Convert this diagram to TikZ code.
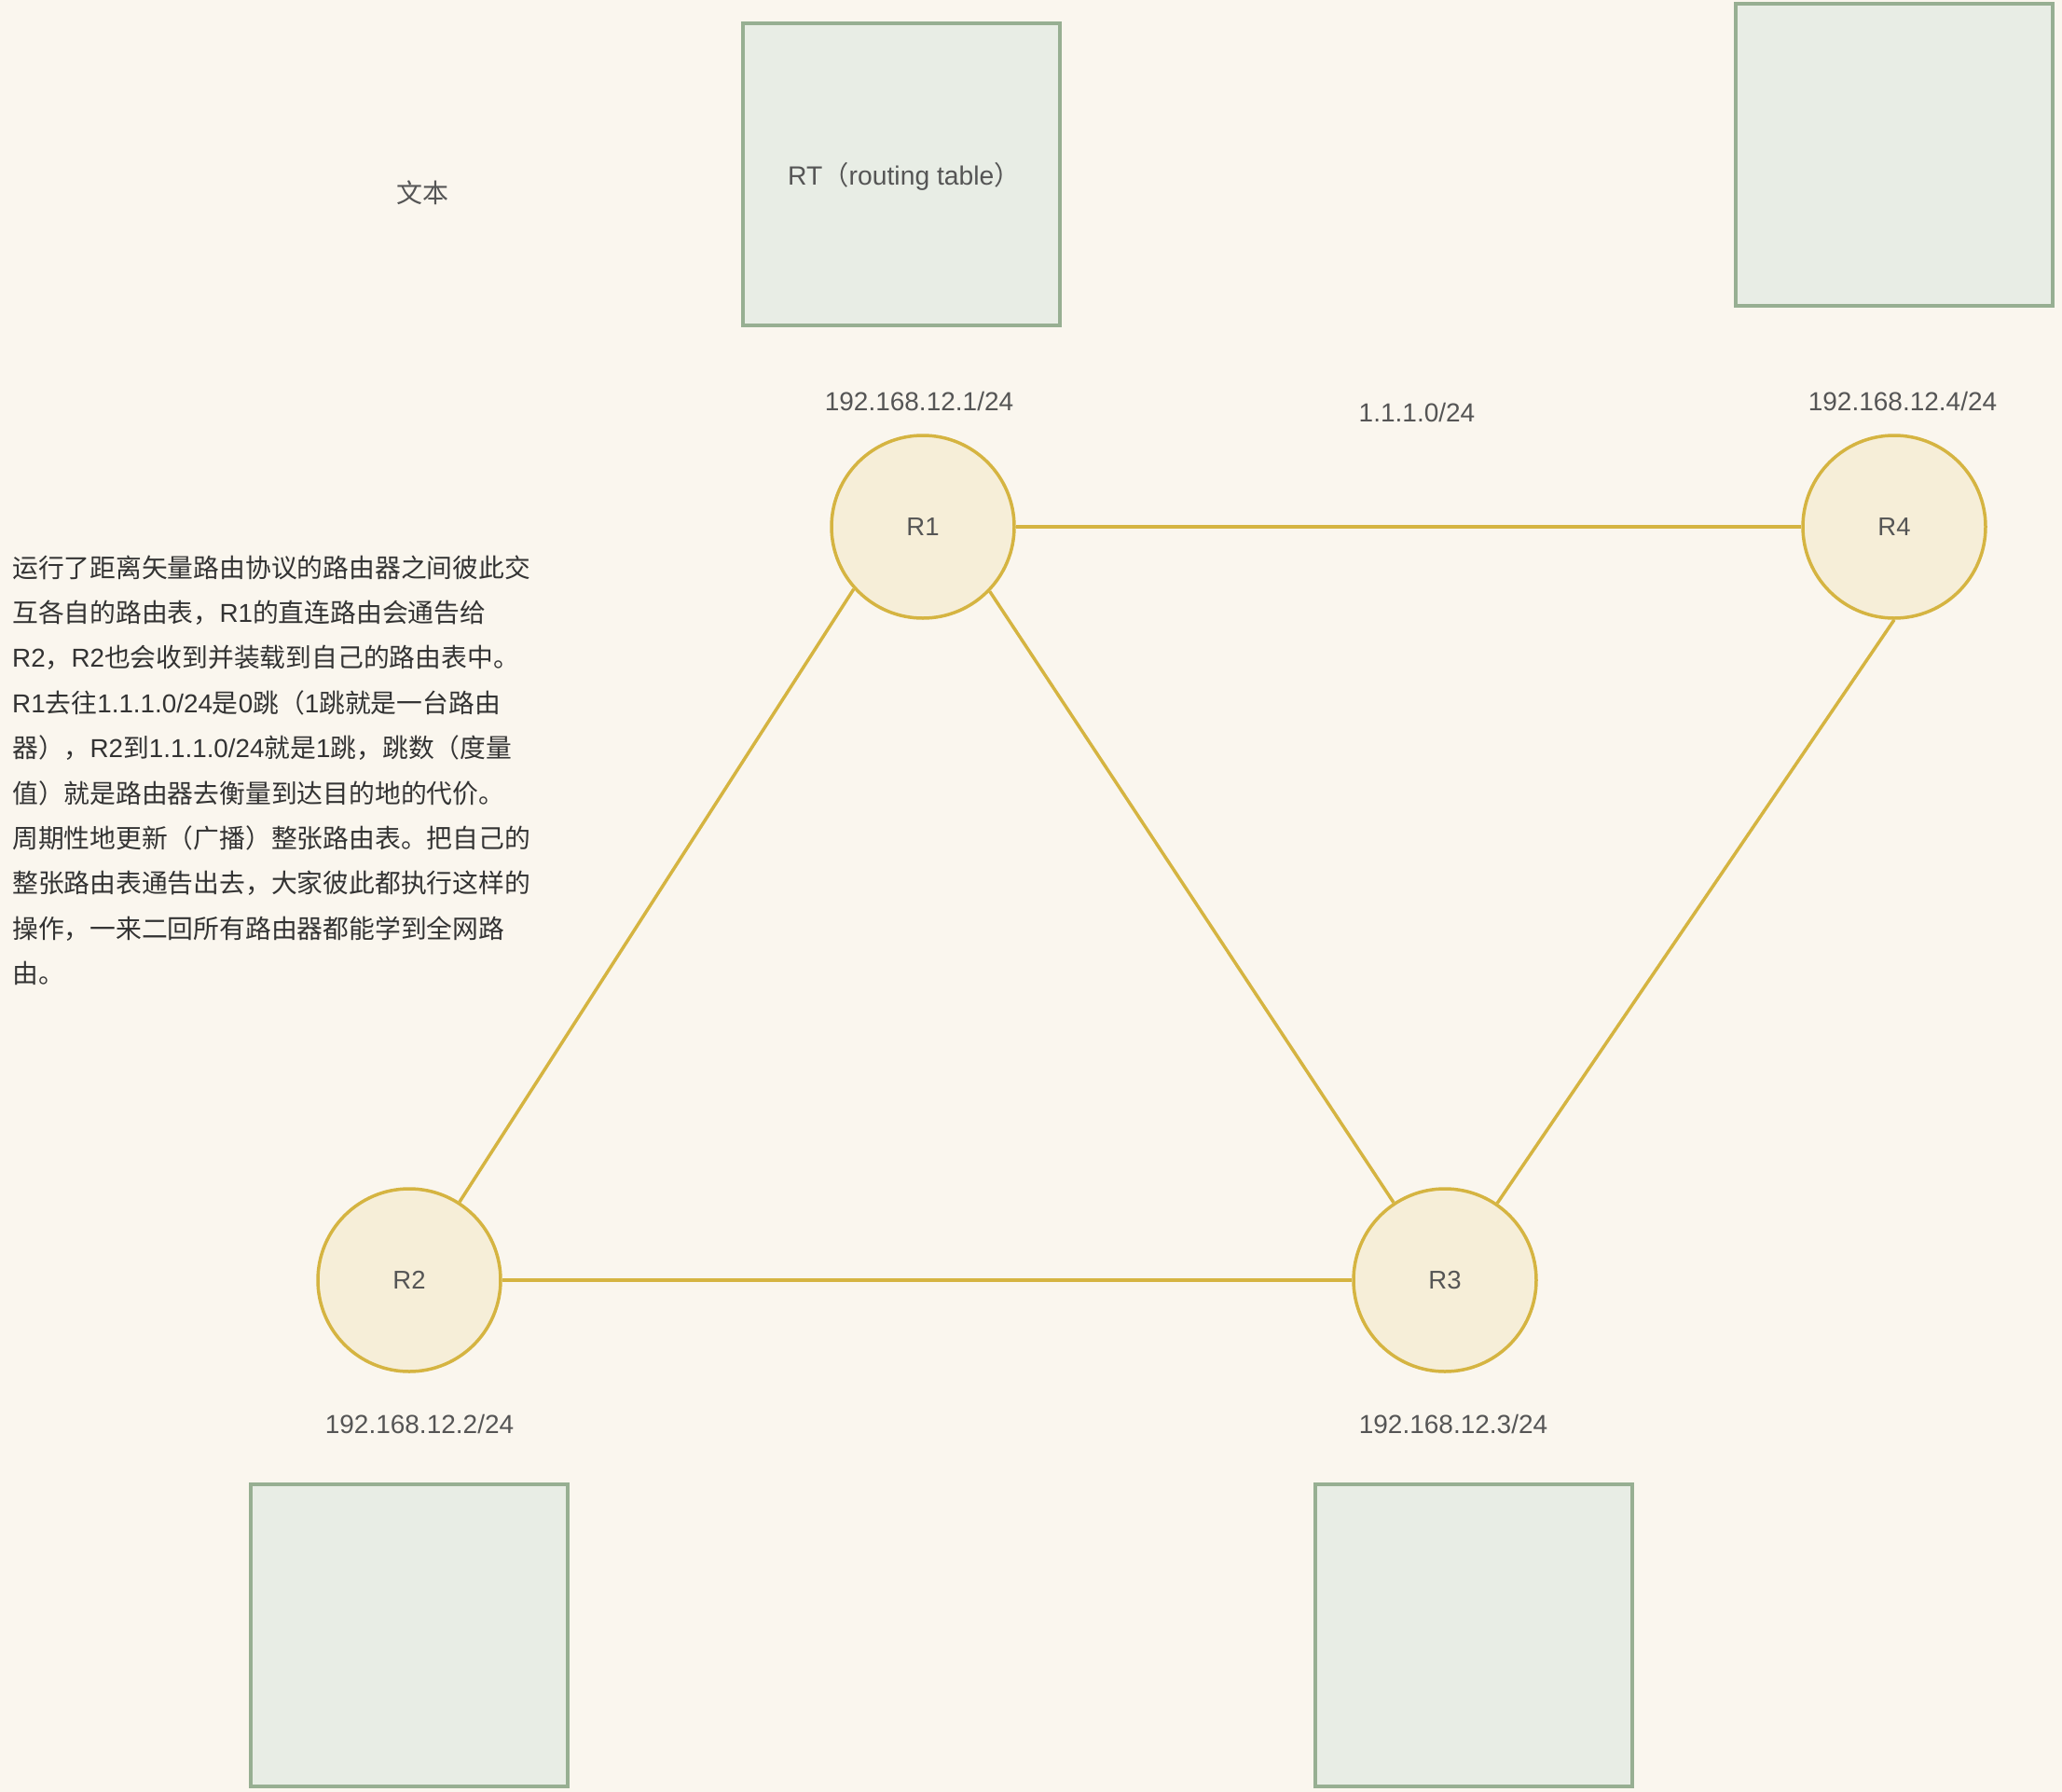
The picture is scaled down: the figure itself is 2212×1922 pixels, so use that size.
\documentclass[tikz,border=0pt]{standalone}
\usepackage{fontspec}
\setmainfont{Liberation Sans}
\newfontfamily\cjk{Noto Sans CJK SC}
\definecolor{bgc}{HTML}{FAF6EE}
\definecolor{rfill}{HTML}{F6EED8}
\definecolor{rstroke}{HTML}{D5B441}
\definecolor{gfill}{HTML}{E8EDE5}
\definecolor{gstroke}{HTML}{97AF92}
\definecolor{lblc}{HTML}{555555}
\definecolor{parac}{HTML}{333333}
\begin{document}
\begin{tikzpicture}[x=1pt,y=-1pt,
  router/.style={circle, draw=rstroke, fill=rfill, line width=3.5pt, minimum size=196pt, inner sep=0pt, text=lblc, font=\fontsize{27.5}{32}\selectfont},
  tblbox/.style={rectangle, draw=gstroke, fill=gfill, line width=3.5pt, minimum width=340pt, minimum height=324pt, inner sep=0pt, text=lblc, font=\fontsize{28.3}{33}\selectfont},
  lbl/.style={inner sep=0pt, text=lblc, font=\fontsize{28}{34}\selectfont},
  para/.style={anchor=base west, inner sep=0pt, text=parac, font=\fontsize{27.8}{33}\selectfont},
  link/.style={draw=rstroke, line width=3.5pt}]
\useasboundingbox[fill=bgc] (0,0) rectangle (2212,1922);

% routing table boxes
\node[tblbox] (RT) at (967,187) {};
\node[inner sep=0pt, text=lblc, font=\fontsize{28.3}{33}\selectfont] (RTt) at (970,189) {RT{\cjk （}routing table{\cjk ）}};
\node[tblbox] (T4) at (2032,166) {};
\node[tblbox] (T2) at (439,1754) {};
\node[tblbox] (T3) at (1581,1754) {};

% routers
\node[router] (R1) at (990,565) {R1};
\node[router] (R4) at (2032,565) {R4};
\node[router] (R2) at (439,1373) {R2};
\node[router] (R3) at (1550,1373) {R3};

% links
\draw[link] (R1) -- (R4);
\draw[link] (R1.222) -- (R2);
\draw[link] (R1.316) -- (R3);
\draw[link] (R4.south) -- (R3);
\draw[link] (R2) -- (R3);

% labels
\node[lbl] (L1) at (986,430) {192.168.12.1/24};
\node[lbl] (Lnet) at (1520,442) {1.1.1.0/24};
\node[lbl] (L4) at (2041,430) {192.168.12.4/24};
\node[lbl] (L2) at (450,1527) {192.168.12.2/24};
\node[lbl] (L3) at (1559,1527) {192.168.12.3/24};
\node[lbl, font=\cjk\fontsize{28}{34}\selectfont] (wb) at (453,207) {文本};

% paragraph
\node[para] (p1) at (13,619) {{\cjk 运行了距离矢量路由协议的路由器之间彼此交}};
\node[para] (p2) at (13,667.4) {{\cjk 互各自的路由表，}R1{\cjk 的直连路由会通告给}};
\node[para] (p3) at (13,715.8) {R2{\cjk ，}R2{\cjk 也会收到并装载到自己的路由表中。}};
\node[para] (p4) at (13,764.2) {R1{\cjk 去往}1.1.1.0/24{\cjk 是}0{\cjk 跳（}1{\cjk 跳就是一台路由}};
\node[para] (p5) at (13,812.6) {{\cjk 器），}R2{\cjk 到}1.1.1.0/24{\cjk 就是}1{\cjk 跳，跳数（度量}};
\node[para] (p6) at (13,861.0) {{\cjk 值）就是路由器去衡量到达目的地的代价。}};
\node[para] (p7) at (13,909.4) {{\cjk 周期性地更新（广播）整张路由表。把自己的}};
\node[para] (p8) at (13,957.8) {{\cjk 整张路由表通告出去，大家彼此都执行这样的}};
\node[para] (p9) at (13,1006.2) {{\cjk 操作，一来二回所有路由器都能学到全网路}};
\node[para] (p10) at (13,1054.6) {{\cjk 由。}};
\end{tikzpicture}
\end{document}
